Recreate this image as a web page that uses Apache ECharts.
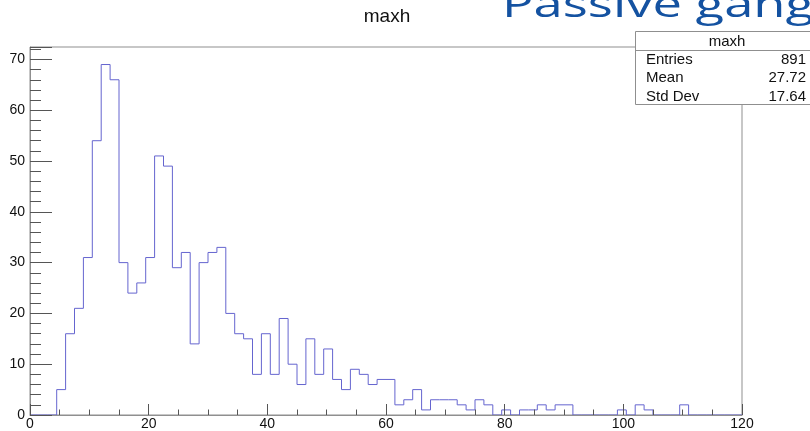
<!DOCTYPE html>
<html>
<head>
<meta charset="utf-8">
<script src="https://cdn.jsdelivr.net/npm/echarts@6/dist/echarts.min.js"></script>
<style>html,body{margin:0;padding:0;background:#fff;}#c{width:810px;height:431px;}</style>
</head>
<body>
<div id="c"></div>
<script>
// Histogram "maxh": 80 bins from 0 to 120 (bin width 1.5)
const binMin = 0;
const binMax = 120;
const counts = [
  0, 0, 0, 5, 16, 21, 31, 54, 69, 66,
  30, 24, 26, 31, 51, 49, 29, 32, 14, 30,
  32, 33, 20, 16, 15, 8, 16, 8, 19, 10,
  6, 15, 8, 13, 7, 5, 9, 8, 6, 7,
  7, 2, 3, 5, 1, 3, 3, 3, 2, 1,
  3, 2, 0, 1, 0, 1, 1, 2, 1, 2,
  2, 0, 0, 0, 0, 0, 1, 0, 2, 1,
  0, 0, 0, 2, 0, 0, 0, 0, 0, 0
];
const xTicks = [0, 20, 40, 60, 80, 100, 120];
const yTicks = [0, 10, 20, 30, 40, 50, 60, 70];
const yMax = 72.45;
const histTitle = 'maxh';
const statsLabels = ['Entries', 'Mean', 'Std Dev'];
const statsValues = ['891', '27.72', '17.64'];
const slideText = 'Passive ganging';

const binWidth = (binMax - binMin) / counts.length;
const stepData = counts.map((c, i) => [binMin + i * binWidth, c]);
stepData.push([binMax, 0]);

const axisGrey = '#8f8f8f';
const font = 'Liberation Sans, Arial, sans-serif';

const chart = echarts.init(document.getElementById('c'), null, {renderer: 'canvas'});
const statsGraphics = [];
statsLabels.forEach((lab, i) => {
  statsGraphics.push({type: 'text', z: 101, x: 646, y: 60 + i * 18.2,
    style: {text: lab, font: '15px ' + font, fill: '#111', align: 'left', verticalAlign: 'middle'}});
  statsGraphics.push({type: 'text', z: 101, x: 806, y: 60 + i * 18.2,
    style: {text: statsValues[i], font: '15px ' + font, fill: '#111', align: 'right', verticalAlign: 'middle'}});
});

chart.setOption({
  animation: false,
  backgroundColor: '#fff',
  grid: {left: 30, right: 68, top: 47, bottom: 16, show: true, borderColor: axisGrey, borderWidth: 1, backgroundColor: 'transparent'},
  xAxis: [
    {type: 'value', min: binMin, max: binMax, interval: 20, position: 'bottom', z: 5,
      axisLine: {show: true, onZero: false, lineStyle: {color: axisGrey, width: 1}},
      axisTick: {show: true, inside: true, length: 11, lineStyle: {color: '#555'}},
      axisLabel: {show: true, margin: 2, color: '#111', fontSize: 14, fontFamily: font,
        formatter: v => xTicks.indexOf(v) >= 0 ? String(v) : ''},
      splitLine: {show: false}},
    {type: 'value', min: binMin, max: binMax, interval: 5, position: 'bottom', z: 5,
      axisLine: {show: false}, axisLabel: {show: false}, splitLine: {show: false},
      axisTick: {show: true, inside: true, length: 5.5, lineStyle: {color: '#555'}}}
  ],
  yAxis: [
    {type: 'value', min: 0, max: yMax, interval: 10, position: 'left', z: 5,
      axisLine: {show: true, onZero: false, lineStyle: {color: axisGrey, width: 1}},
      axisTick: {show: true, inside: true, length: 22, lineStyle: {color: '#555'}},
      axisLabel: {show: true, margin: 5, color: '#111', fontSize: 14, fontFamily: font,
        formatter: v => yTicks.indexOf(v) >= 0 ? String(v) : ''},
      splitLine: {show: false}},
    {type: 'value', min: 0, max: yMax, interval: 2, position: 'left', z: 5,
      axisLine: {show: false}, axisLabel: {show: false}, splitLine: {show: false},
      axisTick: {show: true, inside: true, length: 11, lineStyle: {color: '#555'}}}
  ],
  series: [{
    type: 'line', xAxisIndex: 0, yAxisIndex: 0, step: 'end', data: stepData,
    showSymbol: false, symbol: 'none', z: 2,
    lineStyle: {color: '#6565cf', width: 1}
  }],
  graphic: [
    {type: 'text', z: 100, x: 502, y: 7, scaleX: 1.46,
      style: {text: slideText, font: '36px "Open Sans", sans-serif', fill: '#1452a1', align: 'left', verticalAlign: 'middle'}},
    {type: 'text', z: 100, x: 387, y: 17,
      style: {text: histTitle, font: '19px ' + font, fill: '#111', align: 'center', verticalAlign: 'middle'}},
    {type: 'rect', z: 100, shape: {x: 635.5, y: 31.5, width: 185, height: 73},
      style: {fill: '#fff', stroke: axisGrey, lineWidth: 1}},
    {type: 'line', z: 101, shape: {x1: 635.5, y1: 50.5, x2: 815, y2: 50.5},
      style: {stroke: axisGrey, lineWidth: 1}},
    {type: 'text', z: 101, x: 727, y: 41.5,
      style: {text: histTitle, font: '15px ' + font, fill: '#111', align: 'center', verticalAlign: 'middle'}}
  ].concat(statsGraphics)
});
</script>
</body>
</html>
